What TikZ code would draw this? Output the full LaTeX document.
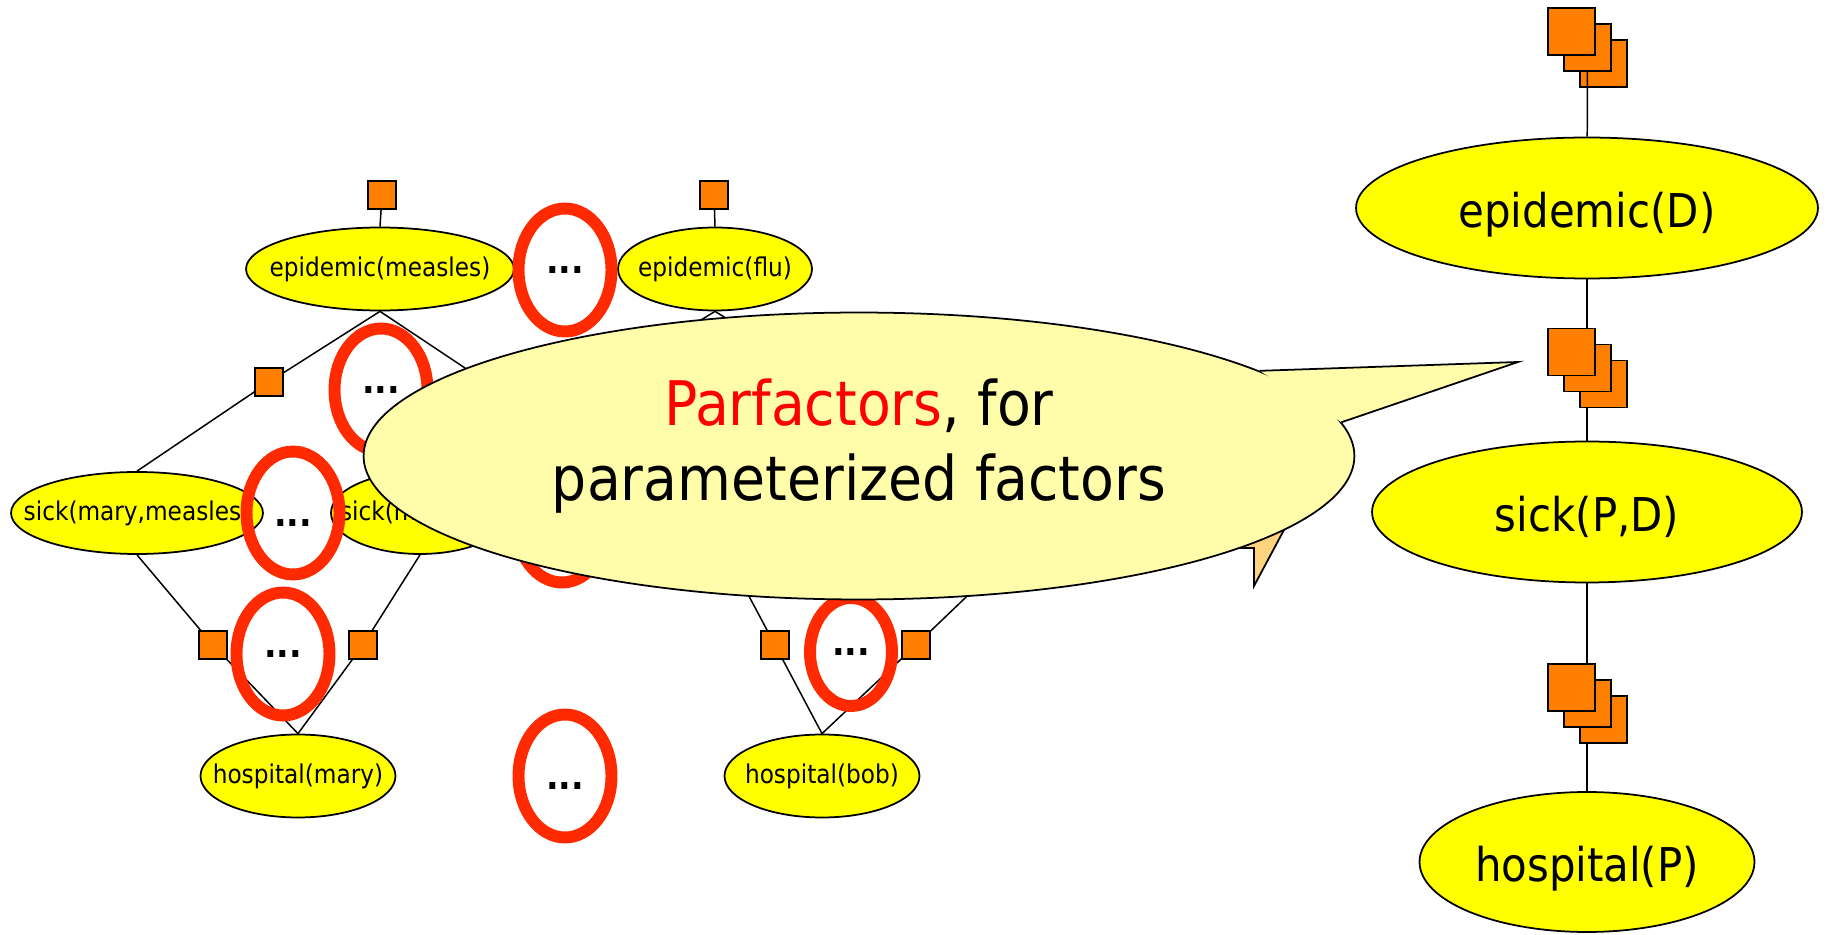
\documentclass[tikz,border=0pt]{standalone}
\usepackage{fontspec}
\setmainfont{DejaVu Sans Condensed}
\usetikzlibrary{shapes.geometric}
\pgfdeclarelayer{background}
\pgfsetlayers{background,main}

\definecolor{varyellow}{HTML}{FFFF00}
\definecolor{facorange}{HTML}{FF7F00}
\definecolor{ringred}{HTML}{FF2A00}
\definecolor{bubblefill}{HTML}{FFFCAA}
\definecolor{tailfill}{HTML}{FFD47F}
\definecolor{parred}{HTML}{FF0000}

% texto sem largura: o tamanho da elipse vem so de minimum width/height
\newcommand{\rotulo}[1]{\makebox[0pt]{#1}}

\newcommand{\fatorpilha}[3]{%
  % #1 = nome, #2 = x, #3 = y (quadrado da frente)
  \node[bigfac] (#1b) at (#2+32,#3+32) {};
  \node[bigfac] (#1m) at (#2+16,#3+16) {};
  \node[bigfac] (#1f) at (#2,#3) {};
}

\begin{document}
\begin{tikzpicture}[x=0.02cm, y=-0.02cm,
    var/.style={ellipse, draw, line width=1pt, fill=varyellow, inner sep=0pt,
      font=\fontsize{14.7}{17}\selectfont},
    bigvar/.style={var, font=\fontsize{26.5}{31}\selectfont, text height=24pt, text depth=2pt},
    fac/.style={rectangle, draw, line width=1pt, fill=facorange, inner sep=0pt, minimum size=0.55cm},
    bigfac/.style={fac, minimum size=0.94cm},
    ring/.style={ellipse, draw=ringred, line width=6.8pt, inner sep=0pt,
      minimum width=1.86cm, minimum height=2.46cm, text height=0pt, text depth=0pt,
      font=\fontsize{21}{21}\selectfont\bfseries},
    edge/.style={line width=0.85pt}]

    \useasboundingbox (0,0) rectangle (1827,935);

    % rede instanciada
    \node[var, minimum width=5.36cm, minimum height=1.66cm] (epiM) at (380,269) {\rotulo{epidemic(measles)}};
    \node[var, minimum width=3.88cm, minimum height=1.66cm] (epiF) at (715,269) {\rotulo{epidemic(flu)}};
    \node[var, minimum width=5.04cm, minimum height=1.64cm] (sMM) at (137,513) {\rotulo{sick(mary,measles)}};
    \node[var, minimum width=3.56cm, minimum height=1.64cm] (sMF) at (420,513) {\rotulo{sick(mary,flu)}};
    \node[var, minimum width=3.90cm, minimum height=1.66cm] (hospM) at (298,776) {\rotulo{hospital(mary)}};
    \node[var, minimum width=3.90cm, minimum height=1.66cm] (hospB) at (822,776) {\rotulo{hospital(bob)}};

    \node[fac] (fM) at (382,195) {};
    \node[fac] (fF) at (714,195) {};
    \node[fac] (fL) at (269,382) {};
    \node[fac] (fH1) at (213,645) {};
    \node[fac] (fH2) at (363,645) {};
    \node[fac] (fB1) at (775,645) {};
    \node[fac] (fB2) at (916,645) {};

    \coordinate (fMB) at (486,382);
    \coordinate (fFa) at (600,382);
    \coordinate (fFb) at (830,382);
    \coordinate (sBM) at (727,555);
    \coordinate (sBF) at (1010,555);

    % rede com parfactors
    \node[bigvar, minimum width=9.24cm, minimum height=2.82cm] (epiD) at (1587,208) {\rotulo{epidemic(D)}};
    \node[bigvar, minimum width=8.60cm, minimum height=2.82cm] (sickPD) at (1587,512) {\rotulo{sick(P,D)}};
    \node[bigvar, minimum width=6.70cm, minimum height=2.80cm] (hospP) at (1587,862) {\rotulo{hospital(P)}};

    \begin{pgfonlayer}{background}
        \draw[edge] (fM) -- (epiM.north);
        \draw[edge] (fF) -- (epiF.north);
        \draw[edge] (epiM.south) -- (fL.center) -- (sMM.north);
        \draw[edge] (epiM.south) -- (fMB);
        \draw[edge] (epiF.south) -- (fFa);
        \draw[edge] (epiF.south) -- (fFb);
        \draw[edge] (sMM.south) -- (fH1.center) -- (hospM.north);
        \draw[edge] (sMF.south) -- (fH2.center) -- (hospM.north);
        \draw[edge] (sBM) -- (fB1.center) -- (hospB.north);
        \draw[edge] (sBF) -- (fB2.center) -- (hospB.north);
        \draw[edge] (epiD.south) -- (sickPD.north);
        \draw[edge] (sickPD.south) -- (hospP.north);
    \end{pgfonlayer}

    \fatorpilha{gA}{1571.5}{31.5}
    \fatorpilha{gB}{1571.5}{352}
    \fatorpilha{gC}{1571.5}{687.5}
    \draw[edge] (gAm) -- (epiD);

    % elipses vermelhas
    \node[ring] (r1) at (565,270) {\raisebox{-0.1em}{...}};
    \node[ring] (r2) at (381,390) {\raisebox{-0.1em}{...}};
    \node[ring] (r3) at (293,513) {\raisebox{-0.37em}{...}};
    \node[ring] (r4) at (562,521) {};
    \node[ring] (r5) at (283,654) {\raisebox{-0.1em}{...}};
    \node[ring] (r6) at (565,776) {\raisebox{-0.37em}{...}};
    \node[ring, minimum width=1.64cm, minimum height=2.16cm] (r7) at (851,652) {\raisebox{-0.1em}{...}};

    % balao
    \filldraw[fill=tailfill, line width=1pt] (1230,548) -- (1254,548) -- (1254,586) -- (1285,528) -- cycle;
    \node[ellipse, draw, line width=1pt, fill=bubblefill, inner sep=0pt,
      minimum width=19.82cm, minimum height=5.74cm] (bubble) at (859,456) {};
    \coordinate (tip) at (1518,362);
    \fill[bubblefill] (bubble.12.6) -- (tip) -- (bubble.4.65) -- cycle;
    \draw[line width=1pt] (bubble.12.6) -- (tip) -- (bubble.4.65);
    \node[align=center, font=\fontsize{35}{42.7}\selectfont] (msg) at (859,446)
      {\textcolor{parred}{Parfactors}, for\\parameterized factors};

\end{tikzpicture}
\end{document}
